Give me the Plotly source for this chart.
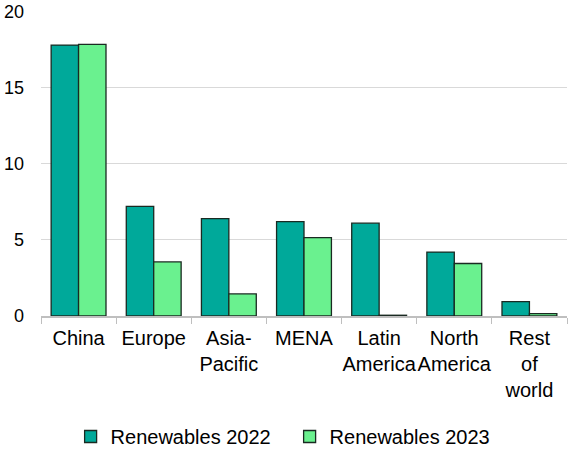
import plotly.graph_objects as go

categories = ["China", "Europe", "Asia-<br>Pacific", "MENA", "Latin<br>America", "North<br>America", "Rest<br>of<br>world"]
renewables_2022 = [17.8, 7.2, 6.4, 6.2, 6.1, 4.2, 0.95]
renewables_2023 = [17.85, 3.55, 1.45, 5.15, 0.05, 3.45, 0.15]

fig = go.Figure()
fig.add_trace(go.Bar(x=categories, y=renewables_2022, name="Renewables 2022",
                     marker=dict(color="#00A99A", line=dict(color="#1a2a22", width=1.3))))
fig.add_trace(go.Bar(x=categories, y=renewables_2023, name="Renewables 2023",
                     marker=dict(color="#6AF18F", line=dict(color="#1a2a22", width=1.3))))

fig.update_layout(
    width=570, height=459,
    margin=dict(l=41, r=3, t=11, b=141),
    plot_bgcolor="white", paper_bgcolor="white",
    barmode="group", bargap=0.27, bargroupgap=0,
    font=dict(family="Liberation Sans, Arial, sans-serif", size=20, color="#000000"),
    showlegend=True,
    legend=dict(orientation="h", x=0.0563, xanchor="left", y=-0.395, yanchor="middle",
                font=dict(size=20), itemwidth=30, entrywidth=174, entrywidthmode="pixels",
                traceorder="normal"),
)
fig.update_xaxes(showline=True, linecolor="#BFBFBF", linewidth=1.5, tickangle=0,
                 ticks="outside", tickson="boundaries", ticklen=6, tickcolor="#BFBFBF",
                 tickfont=dict(size=20), showgrid=False, automargin=False,
                 ticklabelstandoff=3)
fig.update_yaxes(range=[0, 20.04], tickvals=[0, 5, 10, 15, 20], showgrid=True,
                 gridcolor="#D9D9D9", gridwidth=1, ticklabeloverflow="allow",
                 showline=False, zeroline=False, ticks="", ticklabelstandoff=16,
                 tickfont=dict(size=18), automargin=False)

fig.write_html("out.html", config={"displayModeBar": False},
               post_script="document.body.style.margin='0';document.body.style.overflow='hidden';")
